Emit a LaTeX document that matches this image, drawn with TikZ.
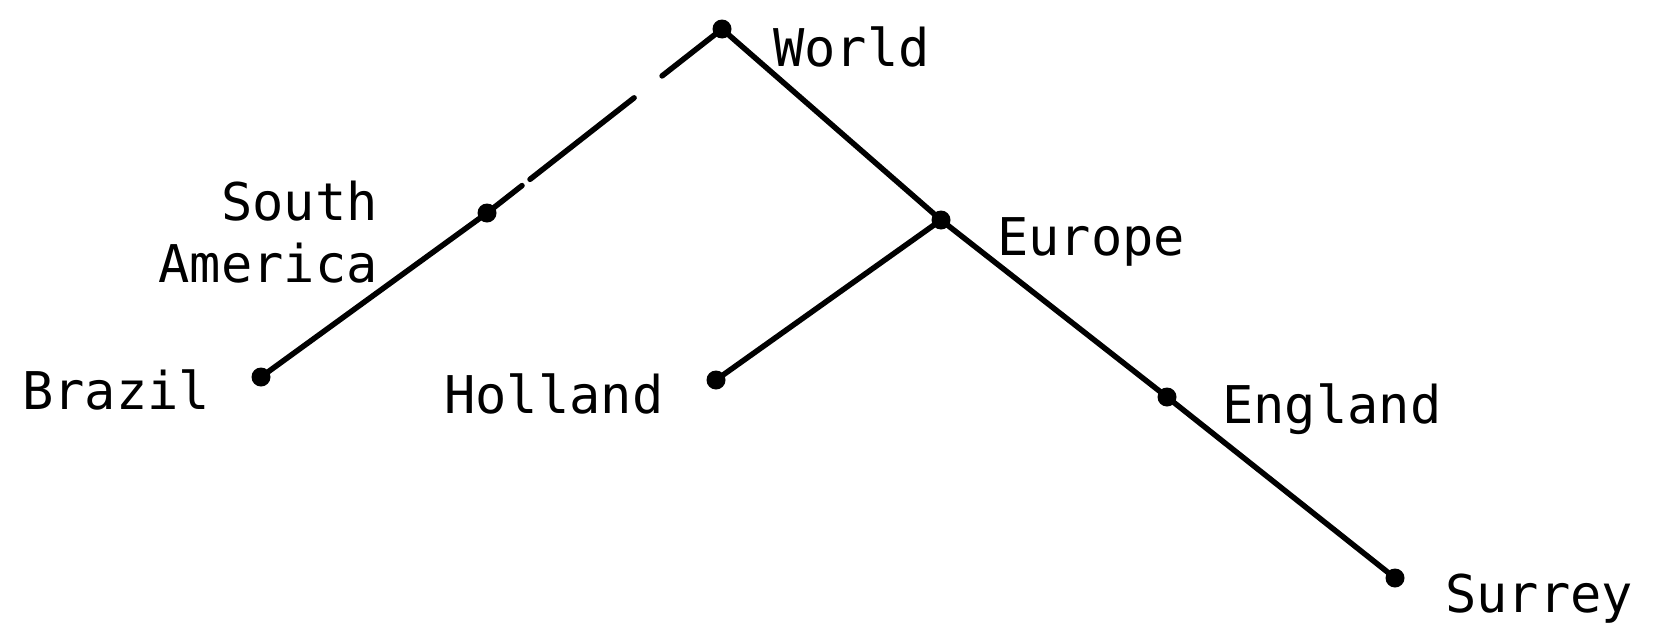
\documentclass[tikz,border=0pt]{standalone}
\usepackage{fontspec}
\usetikzlibrary{calc}
\newfontfamily\typewriter{DejaVu Sans Mono}
\begin{document}
\begin{tikzpicture}[x=1pt,y=-1pt,
  place/.style={circle,fill=black,inner sep=0pt,minimum size=19pt},
  branch/.style={line width=5.5pt,line cap=round},
  label/.style={font=\typewriter\fontsize{52}{61}\selectfont,inner sep=0pt,anchor=base west}]
\useasboundingbox (0,0) rectangle (1660,632);
% places in the hierarchy
\node[place] (world)   at (722,29)  {};
\node[place] (samer)   at (487,213) {};
\node[place] (brazil)  at (261,377) {};
\node[place] (europe)  at (941,220) {};
\node[place] (holland) at (716,380) {};
\node[place] (england) at (1167,397) {};
\node[place] (surrey)  at (1395,578) {};
% names
\node[label] (tworld)   at (773,66)  {World};
\node[label,anchor=base east] (tsouth) at (378,220) {South};
\node[label,anchor=base east] (tamer)  at (378,282) {America};
\node[label] (tbrazil)  at (22,409)  {Brazil};
\node[label] (teurope)  at (997,255) {Europe};
\node[label] (tholland) at (444,413) {Holland};
\node[label] (tengland) at (1222,423) {England};
\node[label] (tsurrey)  at (1445,612) {Surrey};
% links
\draw[branch] (world.center) -- ($(world)!0.255!(samer)$);
\draw[branch] ($(world)!0.374!(samer)$) -- ($(world)!0.817!(samer)$);
\draw[branch] ($(world)!0.851!(samer)$) -- (samer.center);
\draw[branch] (samer.center) -- (brazil.center);
\draw[branch] (world.center) -- (europe.center);
\draw[branch] (europe.center) -- (holland.center);
\draw[branch] (europe.center) -- (england.center);
\draw[branch] (england.center) -- (surrey.center);
\end{tikzpicture}
\end{document}
